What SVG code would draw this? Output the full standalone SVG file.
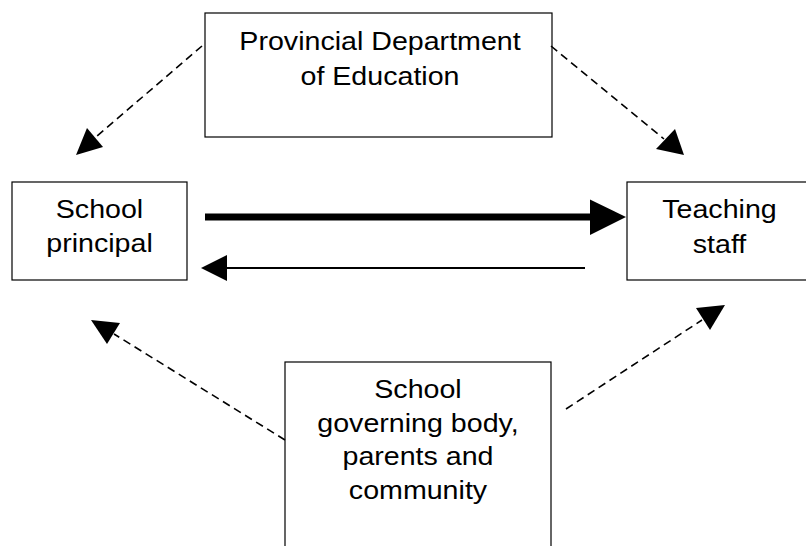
<svg xmlns="http://www.w3.org/2000/svg" width="806" height="546" viewBox="0 0 806 546">
<style>
.box{fill:#fff;stroke:#000;stroke-width:1.2}
.t{font-family:"Liberation Sans",Arial,sans-serif;font-size:26px;fill:#000;text-anchor:middle}
.dash{fill:none;stroke:#000;stroke-width:1.6;stroke-dasharray:8 5}
.head{fill:#000;stroke:none}
</style>
<rect width="806" height="546" fill="#fff"/>
<g id="dept">
<rect class="box" x="205" y="13" width="347" height="124"/>
<g transform="translate(380,0) scale(1.1,1)">
<text class="t" x="0" y="50.5">Provincial Department</text>
<text class="t" x="0" y="85">of Education</text>
</g>
</g>
<g id="principal">
<rect class="box" x="12" y="182" width="175" height="98"/>
<g transform="translate(99.5,0) scale(1.1,1)">
<text class="t" x="0" y="218.5">School</text>
<text class="t" x="0" y="252.5">principal</text>
</g>
</g>
<g id="staff">
<rect class="box" x="627" y="182" width="186" height="98"/>
<g transform="translate(719.5,0) scale(1.1,1)">
<text class="t" x="0" y="218">Teaching</text>
<text class="t" x="0" y="253">staff</text>
</g>
</g>
<g id="community">
<rect class="box" x="285" y="362" width="266" height="200"/>
<g transform="translate(418,0) scale(1.1,1)">
<text class="t" x="0" y="398">School</text>
<text class="t" x="0" y="432">governing body,</text>
<text class="t" x="0" y="465.5">parents and</text>
<text class="t" x="0" y="499">community</text>
</g>
</g>
<g id="connectors">
<line x1="205" y1="217" x2="592" y2="217" stroke="#000" stroke-width="7"/>
<polygon class="head" points="590,199.5 626,217 590,235"/>
<line x1="585" y1="268" x2="225" y2="268" stroke="#000" stroke-width="2"/>
<polygon class="head" points="227,255 201,268 227,281"/>
<line class="dash" x1="202" y1="46" x2="97" y2="136"/>
<polygon class="head" points="76,155 87,128 103,147"/>
<line class="dash" x1="551" y1="46" x2="664" y2="139"/>
<polygon class="head" points="684,155 675,129 656,149"/>
<line class="dash" x1="285" y1="440" x2="114" y2="334"/>
<polygon class="head" points="91,320 120,323 107,344"/>
<line class="dash" x1="566" y1="409" x2="702" y2="320"/>
<polygon class="head" points="725,305 696,308 710,330"/>
</g>
</svg>
